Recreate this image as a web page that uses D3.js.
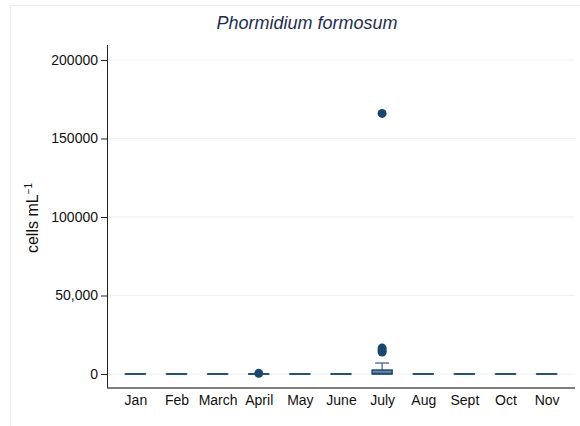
<!DOCTYPE html>
<html>
<head>
<meta charset="utf-8">
<script src="https://cdn.jsdelivr.net/npm/d3@7"></script>
<style>
  body { margin:0; background:#fff; }
  svg { display:block; font-family:"Liberation Sans", Arial, Helvetica, sans-serif; }
</style>
</head>
<body>
<div class="top"></div>
<script>
// box plot summaries per month (cells mL-1)
const months    = ['Jan','Feb','March','April','May','June','July','Aug','Sept','Oct','Nov'];
const q1        = [0,0,0,0,0,0,0,0,0,0,0];
const medians   = [0,0,0,0,0,0,300,0,0,0,0];
const q3        = [0,0,0,0,0,0,2500,0,0,0,0];
const whiskLo   = [0,0,0,0,0,0,0,0,0,0,0];
const whiskHi   = [0,0,0,0,0,0,7000,0,0,0,0];
const outliers  = [[],[],[],[400],[],[],[14000,15000,16500,166000],[],[],[],[]];
const yTicks    = [0,50000,100000,150000,200000];
const yTickText = ['0','50,000','100000','150000','200000'];

const W = 580, H = 426;
const navy = '#1a476f';

const x = d3.scalePoint().domain(months).range([107,575]).padding(0.69);
const y = d3.scaleLinear().domain([0,200000]).range([374,60]);

const rows = months.map((m,i)=>({m, q1:q1[i], med:medians[i], q3:q3[i], lo:whiskLo[i], hi:whiskHi[i], out:outliers[i]}));

const svg = d3.select('.top').append('svg').attr('width',W).attr('height',H);

// outer frame
svg.append('rect')
    .attr('x',10.5).attr('y',5.5)
    .attr('width',W).attr('height',H)
    .attr('fill','none')
    .attr('stroke','#e4ecef');

// gridlines
svg.append('g').attr('class','grid')
    .selectAll('line').data(yTicks)
    .join('line')
        .attr('x1',108).attr('x2',575)
        .attr('y1',d=>y(d)).attr('y2',d=>y(d))
        .attr('stroke','#eaf2f3')
        .attr('stroke-width',1.2);

// y axis
svg.append('g')
    .attr('transform','translate(107,0)')
    .call(d3.axisLeft(y).tickValues(yTicks).tickFormat((d,i)=>yTickText[i]).tickSize(6).tickPadding(3))
    .call(g=>{
        g.select('.domain').remove();
        g.selectAll('.tick line').attr('stroke','#222');
        g.selectAll('.tick text').attr('fill','#111').style('font-size','14px');
    });
svg.append('line')
    .attr('x1',107.5).attr('x2',107.5)
    .attr('y1',45).attr('y2',388)
    .attr('stroke','#222');

// x axis
svg.append('g')
    .attr('transform','translate(0,388)')
    .call(d3.axisBottom(x).tickSize(0).tickPadding(7))
    .call(g=>{
        g.select('.domain').attr('d','M107,0H575').attr('stroke','#555').attr('stroke-width',1.5);
        g.selectAll('.tick text').attr('fill','#111').style('font-size','14px');
    });

// boxes
const bw = 20, cw = 14;
svg.append('g').attr('class','boxes')
    .selectAll('g').data(rows)
    .join('g')
        .attr('transform',d=>`translate(${x(d.m)},0)`)
        .call(sel=>{

            sel.selectAll('.whisker').data(d=>d.hi>d.q3 ? [d] : [])
                .join('line').attr('class','whisker')
                    .attr('x1',0).attr('x2',0)
                    .attr('y1',d=>y(d.q3)).attr('y2',d=>y(d.hi))
                    .attr('stroke','#5c7894')
                    .attr('stroke-width',1.5);

            sel.selectAll('.cap').data(d=>d.hi>d.q3 ? [d] : [])
                .join('line').attr('class','cap')
                    .attr('x1',-cw/2).attr('x2',cw/2)
                    .attr('y1',d=>y(d.hi)).attr('y2',d=>y(d.hi))
                    .attr('stroke','#5c7894')
                    .attr('stroke-width',1.5);

            sel.selectAll('.box').data(d=>[d])
                .join('rect').attr('class','box')
                    .attr('x',-bw/2)
                    .attr('y',d=>y(d.q3))
                    .attr('width',bw)
                    .attr('height',d=>Math.max(0.01,y(d.q1)-y(d.q3)))
                    .attr('fill','#6f8aa6')
                    .attr('stroke',navy)
                    .attr('stroke-width',1.5);

            sel.selectAll('.median').data(d=>[d])
                .join('line').attr('class','median')
                    .attr('x1',-bw/2).attr('x2',bw/2)
                    .attr('y1',d=>y(d.med)).attr('y2',d=>y(d.med))
                    .attr('stroke',navy)
                    .attr('stroke-width',1.5);

            sel.selectAll('.out').data(d=>d.out)
                .join('circle').attr('class','out')
                    .attr('cx',0)
                    .attr('cy',d=>y(d))
                    .attr('r',4.5)
                    .attr('fill',navy);
        });

// titles
svg.append('text')
    .attr('x',307).attr('y',29)
    .attr('text-anchor','middle')
    .style('font-size','18px')
    .style('font-style','italic')
    .attr('fill','#1e2d4f')
    .text('Phormidium formosum');

svg.append('text')
    .attr('transform','translate(38,218) rotate(-90)')
    .attr('text-anchor','middle')
    .style('font-size','16px')
    .attr('fill','#111')
    .call(t=>{
        t.append('tspan').text('cells mL');
        t.append('tspan').attr('dy',-6).style('font-size','10px').text('\u22121');
    });
</script>
</body>
</html>
